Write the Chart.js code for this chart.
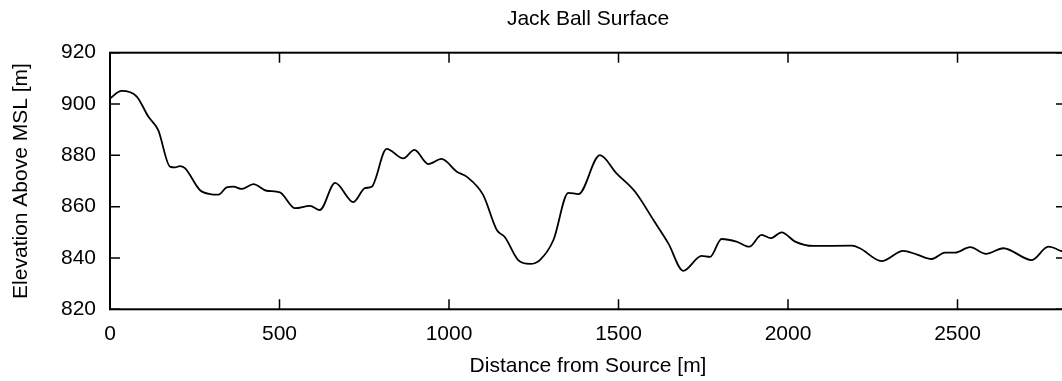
<!DOCTYPE html>
<html><head><meta charset="UTF-8">
<title>Jack Ball Surface</title>
<script src="https://cdn.jsdelivr.net/npm/chart.js"></script>
<style>
  body{margin:0;background:#fff;overflow:hidden}
  #wrap{width:1080px;height:381px}
</style>
</head><body>
<div id="wrap"><canvas id="chart" width="1080" height="381"></canvas></div>
<script>
// distance along the profile [m]
const distance = [0, 34, 79, 113, 142, 177, 192, 206, 221, 265, 295, 320, 344, 364, 389, 423, 462, 501, 546, 590, 619, 664, 718,
  752, 772, 816, 865, 898, 939, 978, 1023, 1052, 1101, 1141, 1165, 1204, 1239, 1268, 1308, 1352, 1382, 1445, 1494, 1549,
  1603, 1647, 1691, 1745, 1770, 1804, 1848, 1886, 1922, 1949, 1981, 2021, 2075, 2188, 2212, 2276, 2340, 2379, 2424, 2463,
  2493, 2537, 2584, 2635, 2719, 2768, 2807, 2820];
// elevation above MSL [m]
const elevation = [902.2, 905.1, 902.9, 895.1, 889.9, 875.6, 875.3, 875.8, 875.0, 866.5, 864.9, 864.7, 867.5, 867.8, 866.9, 868.8, 866.2, 865.6, 859.4, 860.3, 858.7, 869.3, 861.8,
  867.2, 867.8, 882.5, 878.8, 882.1, 876.6, 878.6, 873.6, 871.7, 864.5, 850.9, 848.1, 839.2, 837.7, 839.2, 847.0, 865.4, 864.9, 880.1, 873.0, 865.8,
  854.8, 845.7, 835.0, 840.8, 840.4, 847.4, 846.4, 844.4, 849.0, 847.7, 850.0, 846.4, 844.7, 844.8, 843.8, 838.8, 842.8, 841.4, 839.6, 842.1,
  842.1, 844.2, 841.6, 843.8, 839.2, 844.4, 842.7, 842.2];
const xTicks = [0, 500, 1000, 1500, 2000, 2500];
const yTicks = [820, 840, 860, 880, 900, 920];

const FONT = "'Liberation Sans', Arial, Helvetica, sans-serif";

// gnuplot-like frame with inward ticks on all four sides
const frame = {
  id: "frame",
  afterDraw(chart) {
    const {ctx, chartArea: a, scales} = chart;
    ctx.save();
    ctx.strokeStyle = "#000";
    ctx.lineWidth = 2;
    ctx.strokeRect(a.left, a.top, a.right - a.left, a.bottom - a.top);
    ctx.lineWidth = 1.5;
    ctx.beginPath();
    scales.x.ticks.forEach(t => {
      const px = scales.x.getPixelForValue(t.value);
      ctx.moveTo(px, a.bottom); ctx.lineTo(px, a.bottom - 10);
      ctx.moveTo(px, a.top); ctx.lineTo(px, a.top + 10);
    });
    scales.y.ticks.forEach(t => {
      const py = scales.y.getPixelForValue(t.value);
      ctx.moveTo(a.left, py); ctx.lineTo(a.left + 10, py);
      ctx.moveTo(a.right, py); ctx.lineTo(a.right - 10, py);
    });
    ctx.stroke();
    ctx.restore();
  }
};

new Chart(document.getElementById("chart"), {
  type: "line",
  data: {
    datasets: [{
      data: distance.map((d, i) => ({x: d, y: elevation[i]})),
      borderColor: "#000",
      borderWidth: 1.8,
      pointRadius: 0,
      cubicInterpolationMode: "monotone",
      fill: false
    }]
  },
  options: {
    responsive: false,
    animation: false,
    layout: {padding: {left: 0, right: 14, top: 0, bottom: 0}},
    plugins: {
      legend: {display: false},
      tooltip: {enabled: false},
      title: {
        display: true,
        fullSize: false,
        text: "Jack Ball Surface",
        color: "#000",
        font: {family: FONT, size: 21, weight: "normal"},
        padding: {top: 7, bottom: 20.5}
      }
    },
    scales: {
      x: {
        type: "linear",
        min: 0, max: 2820,
        afterBuildTicks: s => { s.ticks = xTicks.map(v => ({value: v})); },
        afterFit: s => { s.height = 71.7; },
        grid: {display: false, drawTicks: false},
        border: {display: false},
        ticks: {color: "#000", padding: 12, font: {family: FONT, size: 21}, maxRotation: 0,
                callback: v => String(v)},
        title: {display: true, text: "Distance from Source [m]", color: "#000",
                font: {family: FONT, size: 21}, padding: {top: 4, bottom: 2}}
      },
      y: {
        min: 820, max: 920,
        afterBuildTicks: s => { s.ticks = yTicks.map(v => ({value: v})); },
        afterFit: s => { s.width = 110; },
        grid: {display: false, drawTicks: false},
        border: {display: false},
        ticks: {color: "#000", padding: 14, font: {family: FONT, size: 21},
                callback: v => String(v)},
        title: {display: true, text: "Elevation Above MSL [m]", color: "#000",
                font: {family: FONT, size: 21}, padding: {top: 9, bottom: 0}}
      }
    }
  },
  plugins: [frame]
});
</script>
</body></html>
